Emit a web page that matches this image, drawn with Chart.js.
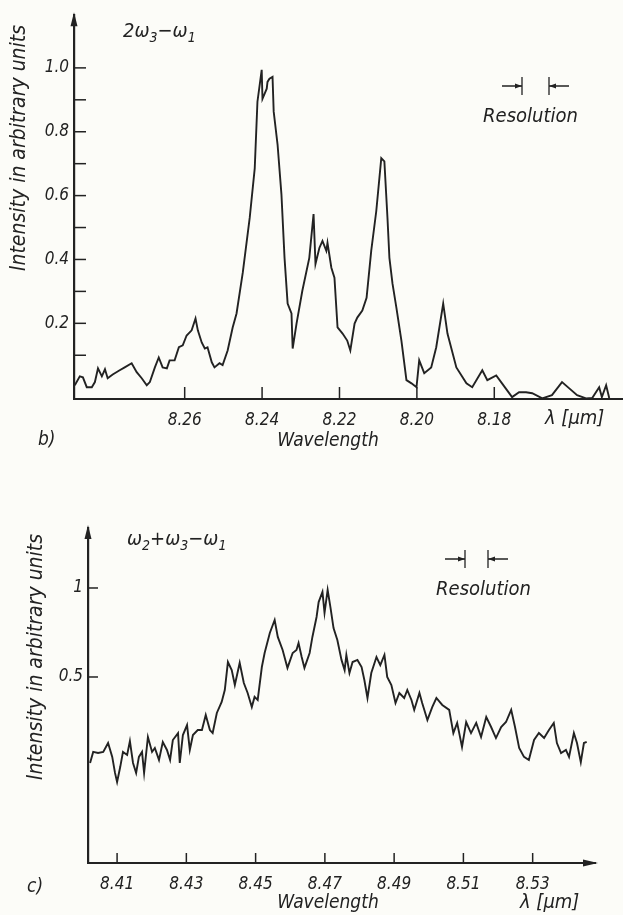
<!DOCTYPE html>
<html>
<head>
<meta charset="utf-8">
<script src="https://cdn.jsdelivr.net/npm/chart.js@4.4.1/dist/chart.umd.min.js"></script>
<style>
  body { margin: 0; background: #fcfcf8; }
  #wrap { position: relative; width: 623px; height: 915px; }
  canvas { position: absolute; left: 0; }
</style>
</head>
<body>
<div id="wrap">
  <canvas id="chartB" width="623" height="460" style="top:0"></canvas>
  <canvas id="chartC" width="623" height="455" style="top:460px"></canvas>
</div>
<script>
// panel b) 2w3 - w1
var wavelengthB = [8.2884, 8.2871, 8.2863, 8.2853, 8.2840, 8.2832, 8.2824, 8.2814, 8.2806, 8.2799,
  8.2786, 8.2768, 8.2755, 8.2737, 8.2724, 8.2711, 8.2698, 8.2690, 8.2677, 8.2667,
  8.2657, 8.2646, 8.2639, 8.2626, 8.2615, 8.2605, 8.2595, 8.2582, 8.2572, 8.2566,
  8.2556, 8.2548, 8.2541, 8.2530, 8.2523, 8.2510, 8.2502, 8.2489, 8.2476, 8.2466,
  8.2450, 8.2432, 8.2419, 8.2412, 8.2401, 8.2399, 8.2388, 8.2386, 8.2381, 8.2373,
  8.2370, 8.2360, 8.2350, 8.2342, 8.2334, 8.2324, 8.2321, 8.2311, 8.2296, 8.2278,
  8.2267, 8.2262, 8.2252, 8.2244, 8.2234, 8.2231, 8.2221, 8.2213, 8.2205, 8.2192,
  8.2180, 8.2172, 8.2161, 8.2154, 8.2141, 8.2130, 8.2118, 8.2105, 8.2092, 8.2084,
  8.2076, 8.2071, 8.2063, 8.2053, 8.2040, 8.2027, 8.2014, 8.2001, 8.1994, 8.1981,
  8.1963, 8.1950, 8.1932, 8.1921, 8.1898, 8.1872, 8.1857, 8.1831, 8.1818, 8.1795,
  8.1780, 8.1754, 8.1736, 8.1718, 8.1702, 8.1676, 8.1651, 8.1625, 8.1607, 8.1586,
  8.1563, 8.1547, 8.1529, 8.1522, 8.1511, 8.1503];
var intensityB = [0.006, 0.034, 0.031, 0.000, 0.000, 0.016, 0.059, 0.034, 0.056, 0.028,
  0.040, 0.053, 0.062, 0.075, 0.047, 0.028, 0.006, 0.016, 0.062, 0.093,
  0.062, 0.059, 0.084, 0.084, 0.125, 0.131, 0.162, 0.178, 0.215, 0.178,
  0.140, 0.121, 0.125, 0.078, 0.062, 0.075, 0.069, 0.115, 0.187, 0.231,
  0.358, 0.530, 0.685, 0.894, 0.994, 0.903, 0.935, 0.956, 0.966, 0.972,
  0.863, 0.760, 0.604, 0.405, 0.262, 0.231, 0.121, 0.199, 0.302, 0.405,
  0.542, 0.386, 0.436, 0.458, 0.427, 0.452, 0.374, 0.343, 0.187, 0.168,
  0.146, 0.115, 0.199, 0.218, 0.240, 0.280, 0.427, 0.551, 0.717, 0.707,
  0.530, 0.405, 0.324, 0.249, 0.146, 0.022, 0.012, 0.000, 0.084, 0.044,
  0.062, 0.125, 0.262, 0.168, 0.062, 0.012, 0.000, 0.053, 0.022, 0.037,
  0.012, -0.031, -0.016, -0.016, -0.019, -0.035, -0.025, 0.016, -0.003, -0.025,
  -0.035, -0.034, 0.000, -0.031, 0.006, -0.034];
var xTicksB = [8.26, 8.24, 8.22, 8.20, 8.18];
var yTicksB = [0.2, 0.4, 0.6, 0.8, 1.0];
var yMinorB = [0.1, 0.3, 0.5, 0.7, 0.9];

// panel c) w2 + w3 - w1
var wavelengthC = [8.4022, 8.4031, 8.4045, 8.4060, 8.4074, 8.4086, 8.4094, 8.4100, 8.4109, 8.4117,
  8.4129, 8.4137, 8.4146, 8.4155, 8.4163, 8.4172, 8.4178, 8.4189, 8.4201, 8.4209,
  8.4221, 8.4232, 8.4244, 8.4253, 8.4261, 8.4276, 8.4281, 8.4290, 8.4302, 8.4310,
  8.4319, 8.4333, 8.4345, 8.4356, 8.4368, 8.4376, 8.4388, 8.4402, 8.4411, 8.4420,
  8.4431, 8.4440, 8.4454, 8.4466, 8.4477, 8.4489, 8.4497, 8.4506, 8.4518, 8.4526,
  8.4541, 8.4555, 8.4564, 8.4578, 8.4592, 8.4607, 8.4618, 8.4624, 8.4633, 8.4641,
  8.4656, 8.4664, 8.4676, 8.4682, 8.4693, 8.4699, 8.4708, 8.4716, 8.4725, 8.4736,
  8.4748, 8.4757, 8.4762, 8.4771, 8.4780, 8.4794, 8.4806, 8.4814, 8.4823, 8.4834,
  8.4849, 8.4860, 8.4872, 8.4880, 8.4892, 8.4904, 8.4915, 8.4929, 8.4938, 8.4950,
  8.4958, 8.4973, 8.4981, 8.4996, 8.5010, 8.5022, 8.5039, 8.5059, 8.5071, 8.5082,
  8.5096, 8.5108, 8.5122, 8.5137, 8.5151, 8.5166, 8.5180, 8.5194, 8.5209, 8.5223,
  8.5238, 8.5249, 8.5261, 8.5275, 8.5289, 8.5304, 8.5318, 8.5333, 8.5347, 8.5361,
  8.5370, 8.5382, 8.5396, 8.5405, 8.5419, 8.5428, 8.5439, 8.5448, 8.5456];
var intensityC = [0.017, 0.079, 0.073, 0.079, 0.129, 0.051, -0.039, -0.090, -0.006, 0.079,
  0.062, 0.140, 0.017, -0.039, 0.051, 0.079, -0.039, 0.163, 0.079, 0.101,
  0.034, 0.135, 0.090, 0.034, 0.146, 0.185, 0.017, 0.174, 0.230, 0.090,
  0.174, 0.202, 0.202, 0.287, 0.202, 0.185, 0.298, 0.360, 0.427, 0.584,
  0.539, 0.455, 0.579, 0.466, 0.410, 0.331, 0.388, 0.371, 0.556, 0.635,
  0.747, 0.820, 0.725, 0.652, 0.551, 0.635, 0.652, 0.691, 0.612, 0.551,
  0.635, 0.725, 0.837, 0.921, 0.978, 0.860, 0.989, 0.893, 0.775, 0.708,
  0.596, 0.539, 0.624, 0.522, 0.584, 0.596, 0.556, 0.483, 0.382, 0.522,
  0.612, 0.567, 0.624, 0.500, 0.455, 0.354, 0.410, 0.382, 0.427, 0.371,
  0.315, 0.410, 0.354, 0.258, 0.331, 0.382, 0.343, 0.315, 0.185, 0.242,
  0.107, 0.247, 0.185, 0.242, 0.163, 0.275, 0.219, 0.157, 0.219, 0.247,
  0.315, 0.219, 0.101, 0.051, 0.034, 0.146, 0.185, 0.157, 0.202, 0.242,
  0.129, 0.073, 0.090, 0.051, 0.185, 0.129, 0.022, 0.129, 0.135];
var xTicksC = [8.41, 8.43, 8.45, 8.47, 8.49, 8.51, 8.53];
var yTicksC = [0.5, 1];

var FAMILY = '"DejaVu Sans Condensed", "Liberation Sans Narrow", "DejaVu Sans", sans-serif';
var INK = '#222222';

function font(size) {
  return 'italic ' + size + 'px ' + FAMILY;
}

// draws text with subscript parts: [[text, isSub], ...]
function drawSub(ctx, parts, x, y, size) {
  ctx.textAlign = 'left';
  ctx.textBaseline = 'alphabetic';
  parts.forEach(function (p) {
    var s = p[1] ? size * 0.7 : size;
    ctx.font = font(s);
    ctx.fillText(p[0], x, p[1] ? y + size * 0.25 : y);
    x += ctx.measureText(p[0]).width;
  });
}

function arrowHead(ctx, x, y, dir, len, half) {
  ctx.beginPath();
  if (dir == 'up') {
    ctx.moveTo(x, y); ctx.lineTo(x - half, y + len); ctx.lineTo(x + half, y + len);
  } else if (dir == 'right') {
    ctx.moveTo(x, y); ctx.lineTo(x - len, y - half); ctx.lineTo(x - len, y + half);
  } else {
    ctx.moveTo(x, y); ctx.lineTo(x + len, y - half); ctx.lineTo(x + len, y + half);
  }
  ctx.closePath();
  ctx.fill();
}

var decor = {
  id: 'decor',
  afterDraw: function (chart, args, o) {
    var ctx = chart.ctx;
    var xs = chart.scales.x, ys = chart.scales.y;
    var area = chart.chartArea;
    ctx.save();
    ctx.strokeStyle = INK;
    ctx.fillStyle = INK;
    ctx.lineWidth = 1.5;
    // inward tick marks
    o.xTicks.forEach(function (v) {
      var px = xs.getPixelForValue(v);
      ctx.beginPath(); ctx.moveTo(px, area.bottom); ctx.lineTo(px, area.bottom - o.tickLen); ctx.stroke();
    });
    o.yTicks.concat(o.yMinor).forEach(function (v) {
      var py = ys.getPixelForValue(v);
      ctx.beginPath(); ctx.moveTo(area.left, py); ctx.lineTo(area.left + o.tickLen, py); ctx.stroke();
    });
    // axis arrows
    arrowHead(ctx, area.left, area.top - 3, 'up', 14, 3.5);
    if (o.xArrow) arrowHead(ctx, area.right + 3, area.bottom, 'right', 15, 3.5);

    // resolution marker
    var r = o.res;
    ctx.lineWidth = 1.3;
    ctx.beginPath();
    ctx.moveTo(r.x1 - 20, r.y); ctx.lineTo(r.x1, r.y);
    ctx.moveTo(r.x1, r.y - 9); ctx.lineTo(r.x1, r.y + 9);
    ctx.moveTo(r.x2, r.y - 9); ctx.lineTo(r.x2, r.y + 9);
    ctx.moveTo(r.x2, r.y); ctx.lineTo(r.x2 + 20, r.y);
    ctx.stroke();
    arrowHead(ctx, r.x1, r.y, 'right', 7, 2.5);
    arrowHead(ctx, r.x2, r.y, 'left', 7, 2.5);
    ctx.font = font(20);
    ctx.textAlign = 'center';
    ctx.textBaseline = 'middle';
    ctx.fillText('Resolution', r.x1 + (r.x2 - r.x1) / 2 + o.resShift, r.y + 31);

    // formula
    drawSub(ctx, o.formula, o.fx, o.fy, 20);

    // other labels
    ctx.font = font(19);
    ctx.textBaseline = 'middle';
    ctx.textAlign = 'center';
    ctx.fillText('Wavelength', o.wl[0], o.wl[1]);
    ctx.textAlign = 'left';
    ctx.fillText(o.tag, o.tagPos[0], o.tagPos[1]);
    ctx.font = font(20);
    ctx.fillText('\u03bb [\u03bcm]', o.lam[0], o.lam[1]);

    // y title
    ctx.font = font(21);
    ctx.translate(o.yt[0], o.yt[1]);
    ctx.rotate(-Math.PI / 2);
    ctx.textAlign = 'center';
    ctx.fillText('Intensity in arbitrary units', 0, 0);
    ctx.restore();
  }
};

function makeChart(id, xs, ys, cfg) {
  var pts = xs.map(function (w, i) { return { x: w, y: ys[i] }; });
  return new Chart(document.getElementById(id), {
    type: 'line',
    data: {
      datasets: [{
        data: pts,
        borderColor: INK,
        borderWidth: 1.9,
        pointRadius: 0,
        fill: false,
        tension: 0
      }]
    },
    options: {
      responsive: false,
      animation: false,
      layout: { padding: { top: cfg.top, right: cfg.right, left: 0, bottom: 0 } },
      plugins: {
        legend: { display: false },
        tooltip: { enabled: false },
        decor: cfg.decor
      },
      scales: {
        x: {
          type: 'linear',
          reverse: cfg.reverse,
          min: cfg.xmin,
          max: cfg.xmax,
          afterFit: function (s) { s.height = cfg.xh; },
          afterBuildTicks: function (s) { s.ticks = cfg.xTicks.map(function (v) { return { value: v }; }); },
          grid: { display: true, drawOnChartArea: false, drawTicks: false },
          border: { display: true, color: INK, width: 2 },
          ticks: {
            padding: cfg.xpad,
            color: INK,
            maxRotation: 0,
            autoSkip: false,
            font: { family: FAMILY, size: 17, style: 'italic' },
            callback: function (v) { return v.toFixed(2); }
          }
        },
        y: {
          min: cfg.ymin,
          max: cfg.ymax,
          afterFit: function (s) { s.width = cfg.yw; },
          afterBuildTicks: function (s) { s.ticks = cfg.yTicks.map(function (v) { return { value: v }; }); },
          grid: { display: true, drawOnChartArea: false, drawTicks: false },
          border: { display: true, color: INK, width: 2.2 },
          ticks: {
            padding: 5,
            color: INK,
            font: { family: FAMILY, size: 17, style: 'italic' },
            callback: cfg.yFmt
          }
        }
      }
    },
    plugins: [decor]
  });
}

makeChart('chartB', wavelengthB, intensityB, {
  top: 13, right: 1, xh: 61, yw: 74, xpad: 11,
  xmin: 8.147, xmax: 8.2886, reverse: true,
  ymin: -0.037, ymax: 1.165,
  xTicks: xTicksB, yTicks: yTicksB,
  yFmt: function (v) { return v.toFixed(1); },
  decor: {
    xTicks: xTicksB, yTicks: yTicksB, yMinor: yMinorB, tickLen: 12, xArrow: false,
    res: { x1: 522, x2: 549, y: 86 }, resShift: -5,
    formula: [['2\u03c9', 0], ['3', 1], ['\u2212\u03c9', 0], ['1', 1]], fx: 123, fy: 37,
    wl: [328, 441], lam: [545, 419], tag: 'b)', tagPos: [38, 440], yt: [20, 148]
  }
});

makeChart('chartC', wavelengthC, intensityC, {
  top: 68, right: 28, xh: 52, yw: 88, xpad: 11,
  xmin: 8.4016, xmax: 8.548, reverse: false,
  ymin: -0.545, ymax: 1.337,
  xTicks: xTicksC, yTicks: yTicksC,
  yFmt: function (v) { return String(v); },
  decor: {
    xTicks: xTicksC, yTicks: yTicksC, yMinor: [], tickLen: 10, xArrow: true,
    res: { x1: 465, x2: 488, y: 99 }, resShift: 7,
    formula: [['\u03c9', 0], ['2', 1], ['+\u03c9', 0], ['3', 1], ['\u2212\u03c9', 0], ['1', 1]], fx: 127, fy: 85,
    wl: [328, 443], lam: [520, 443], tag: 'c)', tagPos: [27, 427], yt: [37, 197]
  }
});
</script>
</body>
</html>
